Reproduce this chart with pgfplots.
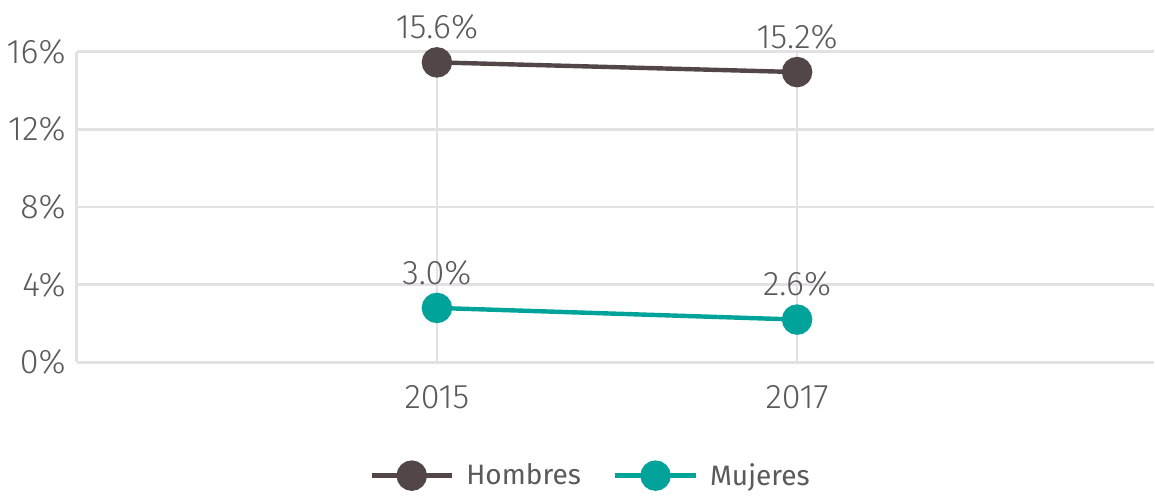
\documentclass[border=0pt]{standalone}
\usepackage{fontspec}
\setmainfont{Fira Sans}[UprightFont=* Light]
\newfontfamily\legfont{Fira Sans}
\usepackage{pgfplots}
\pgfplotsset{compat=1.18}
\definecolor{Grid}{HTML}{E3E1E4}
\definecolor{TextGray}{HTML}{5A5A5A}
\definecolor{Hombres}{HTML}{534646}
\definecolor{Mujeres}{HTML}{00A399}

\begin{document}
\begin{tikzpicture}
\begin{axis}[
  scale only axis,
  width=537.5pt,
  height=155pt,
  xmin=-1, xmax=1.99,
  ymin=0, ymax=16,
  xtick={0,1},
  xticklabels={2015,2017},
  ytick={0,4,8,12,16},
  yticklabels={0\%,4\%,8\%,12\%,16\%},
  grid=major,
  grid style={Grid,line width=1.3pt},
  axis lines=left,
  axis line style={Grid,line width=1.3pt,-},
  major tick length=0pt,
  tick style={draw=none},
  ticklabel style={font=\fontsize{17}{20}\selectfont,text=TextGray},
  xticklabel style={yshift=-8pt},
  yticklabel style={xshift=-2pt},
  clip=false,
  nodes near coords,
  point meta=explicit symbolic,
  nodes near coords style={font=\fontsize{17}{20}\selectfont,text=TextGray,anchor=south,yshift=7pt},
  legend columns=2,
  legend style={draw=none,fill=none,at={(0.478,-0.365)},anchor=center,
    font=\legfont\fontsize{14}{17}\selectfont,text=TextGray,
    /tikz/every odd column/.append style={column sep=4pt},
    /tikz/every even column/.append style={column sep=14pt}},
  legend image code/.code={%
    \draw[#1,line width=2.5pt] (0pt,0pt) -- (40pt,0pt);
    \fill[#1] (20pt,0pt) circle (6.5pt);},
]
\addplot[Hombres,line width=2.2pt,mark=*,mark size=6.5pt,mark options={fill=Hombres,draw=Hombres}]
  coordinates {(0,15.45) [15.6\%] (1,14.95) [15.2\%]};
\addlegendentry{Hombres}
\addplot[Mujeres,line width=2.2pt,mark=*,mark size=6.5pt,mark options={fill=Mujeres,draw=Mujeres}]
  coordinates {(0,2.8) [3.0\%] (1,2.2) [2.6\%]};
\addlegendentry{Mujeres}
\end{axis}
\path (current bounding box.north) ++(0,4pt);
\end{tikzpicture}
\end{document}
